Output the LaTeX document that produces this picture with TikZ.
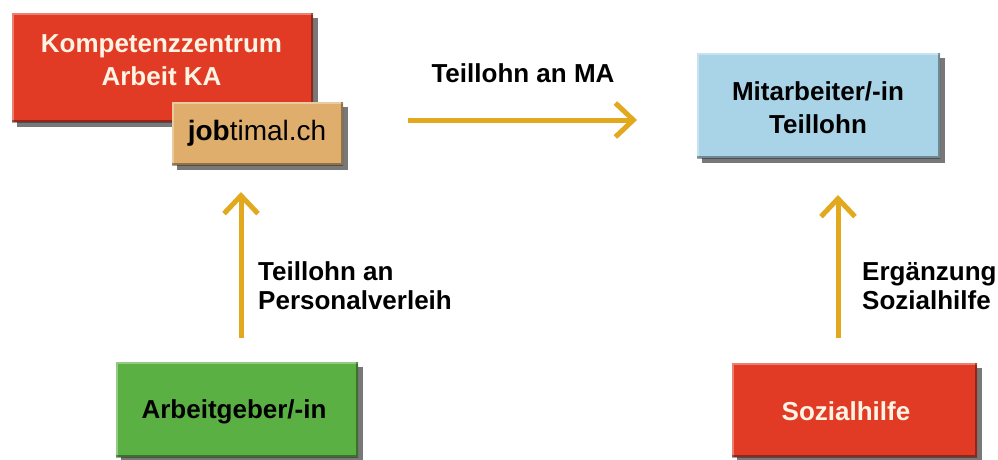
\documentclass[tikz,border=0pt]{standalone}
\usepackage{fontspec}
\setmainfont{Liberation Sans}
\usetikzlibrary{arrows.meta,shadows}
\definecolor{kared}{HTML}{E23B25}
\definecolor{tan}{HTML}{DFAE6C}
\definecolor{lblue}{HTML}{A9D3E6}
\definecolor{lgreen}{HTML}{5BB043}
\definecolor{gold}{HTML}{E2A91E}
\definecolor{offwhite}{HTML}{FFF3E4}
\tikzset{
  bevel/.style={draw=none, inner sep=0pt,
    drop shadow={shadow xshift=5pt, shadow yshift=-5pt, opacity=.7, fill=black!75},
    path picture={
      \draw[white, opacity=.35, line width=4pt]
        (path picture bounding box.south west) -- (path picture bounding box.north west)
        -- (path picture bounding box.north east);
      \draw[black, opacity=.35, line width=4pt]
        (path picture bounding box.north east) -- (path picture bounding box.south east)
        -- (path picture bounding box.south west);
    }},
  txt/.style={font=\fontsize{26}{33}\selectfont\bfseries, inner sep=0pt},
  lbl/.style={font=\fontsize{26}{29}\selectfont\bfseries, align=left, inner sep=0pt},
  flow/.style={draw=gold, line width=5pt,
    -{Straight Barb[length=18pt, width=34pt, line width=5pt]}},
}
\begin{document}
\begin{tikzpicture}[x=1pt,y=-1pt]
\useasboundingbox[fill=white] (0,0) rectangle (998,459);
% boxes
\node[bevel, fill=kared, minimum width=301pt, minimum height=109pt] (ka) at (162.5,67.5) {};
\node[txt, text=offwhite, align=center, anchor=north] (katext) at (161.5,34) {Kompetenzzentrum\\Arbeit KA};
\node[bevel, fill=tan, minimum width=171pt, minimum height=63pt] (job) at (257.5,133.5) {};
\node[inner sep=0pt, anchor=base, font=\fontsize{28}{33}\selectfont] (jobtext) at (257,140) {\textbf{job}timal.ch};
\node[bevel, fill=lblue, minimum width=243pt, minimum height=105pt] (ma) at (818.5,105.5) {};
\node[txt, align=center, anchor=north] (matext) at (818,81) {Mitarbeiter/-in\\Teillohn};
\node[bevel, fill=lgreen, minimum width=242pt, minimum height=95pt] (ag) at (237,409.5) {};
\node[txt, anchor=base] (agtext) at (234,418) {Arbeitgeber/-in};
\node[bevel, fill=kared, minimum width=245pt, minimum height=94pt] (sh) at (854.5,410) {};
\node[txt, text=offwhite, anchor=base] (shtext) at (846,420) {Sozialhilfe};
% arrow end points
\coordinate (a1s) at (241,338);
\coordinate (a1e) at (241,192);
\coordinate (a2s) at (408,120);
\coordinate (a2e) at (637,120);
\coordinate (a3s) at (838,338);
\coordinate (a3e) at (838,195);
\draw[flow] (a1s) -- (a1e);
\draw[flow] (a2s) -- (a2e);
\draw[flow] (a3s) -- (a3e);
% labels
\node[txt, anchor=base] (l2) at (523,82) {Teillohn an MA};
\node[lbl, anchor=north west] (l1) at (258,261) {Teillohn an\\Personalverleih};
\node[lbl, anchor=north west] (l3) at (862,262) {Ergänzung\\Sozialhilfe};
\end{tikzpicture}
\end{document}
